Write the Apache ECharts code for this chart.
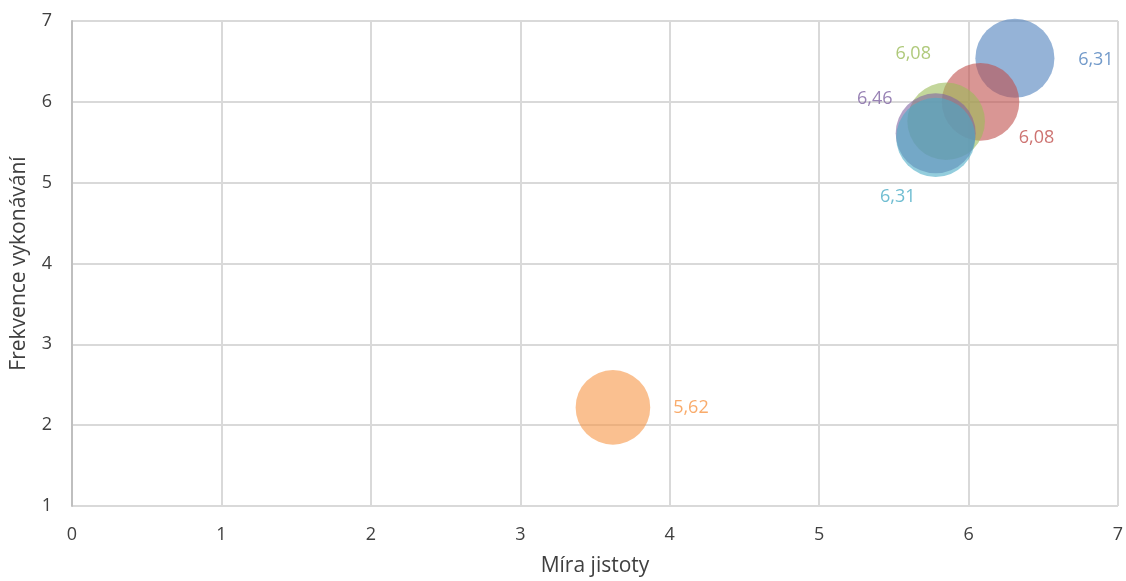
<!DOCTYPE html>
<html>
<head>
<meta charset="utf-8">
<script src="https://cdn.jsdelivr.net/npm/echarts@6/dist/echarts.min.js"></script>
<style>html,body{margin:0;padding:0;background:#fff;}#c{width:1126px;height:581px;}</style>
</head>
<body>
<div id="c"></div>
<script>
// Data
const seriesNames = ['S1', 'S2', 'S3', 'S4', 'S5', 'S6'];
const xValues = [6.31, 6.08, 5.85, 5.78, 5.78, 3.62];
const yValues = [6.54, 6.00, 5.76, 5.61, 5.56, 2.22];
const sizeValues = [6.31, 6.08, 6.08, 6.46, 6.31, 5.62];
const xTicks = [0, 1, 2, 3, 4, 5, 6, 7];
const yTicks = [1, 2, 3, 4, 5, 6, 7];

// Styles
const colors = ['#4F81BD', '#C0504D', '#9BBB59', '#8064A2', '#4BACC6', '#F79646'];
const labelOffsets = [[81, 2], [56, 36], [-33, -67], [-61, -34], [-38, 59], [78, 0]];
const maxSize = Math.max(...sizeValues);
const maxDiameter = 80;
const fillAlpha = 0.75;

function rgba(hex, a) {
  const n = parseInt(hex.slice(1), 16);
  return 'rgba(' + ((n >> 16) & 255) + ',' + ((n >> 8) & 255) + ',' + (n & 255) + ',' + a + ')';
}

const chart = echarts.init(document.getElementById('c'), null, {renderer: 'canvas'});
const font = 'Open Sans';
const series = seriesNames.map((n, i) => ({
  name: n,
  type: 'scatter',
  data: [[xValues[i], yValues[i], sizeValues[i]]],
  symbolSize: v => maxDiameter * Math.sqrt(v[2] / maxSize),
  itemStyle: {color: rgba(colors[i], fillAlpha)},
  label: {
    show: true,
    position: 'inside',
    offset: labelOffsets[i],
    formatter: p => p.value[2].toFixed(2).replace('.', ','),
    color: colors[i],
    fontFamily: font,
    fontWeight: 400,
    fontSize: 18
  },
  emphasis: {disabled: true},
  z: 2 + i
}));

chart.setOption({
  animation: false,
  grid: {left: 72, right: 8, top: 21, bottom: 75, containLabel: false, outerBoundsMode: 'none'},
  xAxis: {
    type: 'value', min: xTicks[0], max: xTicks[xTicks.length - 1], interval: 1,
    name: 'Míra jistoty', nameLocation: 'middle', nameGap: 50,
    nameTextStyle: {color: '#404040', fontSize: 21, fontFamily: font, fontWeight: 400},
    axisLine: {show: false}, axisTick: {show: false},
    axisLabel: {color: '#404040', fontSize: 18, fontFamily: font, fontWeight: 400, margin: 20},
    splitLine: {show: true, lineStyle: {color: '#d9d9d9', width: 2}}
  },
  yAxis: {
    type: 'value', min: yTicks[0], max: yTicks[yTicks.length - 1], interval: 1,
    name: 'Frekvence vykonávání', nameLocation: 'middle', nameGap: 42, nameRotate: 90,
    nameTextStyle: {color: '#404040', fontSize: 21, fontFamily: font, fontWeight: 400},
    axisLine: {show: true, lineStyle: {color: '#bfbfbf', width: 2}}, axisTick: {show: false},
    axisLabel: {color: '#404040', fontSize: 18, fontFamily: font, fontWeight: 400, margin: 20},
    splitLine: {show: true, lineStyle: {color: '#d9d9d9', width: 2}}
  },
  series: series
});
</script>
</body>
</html>
